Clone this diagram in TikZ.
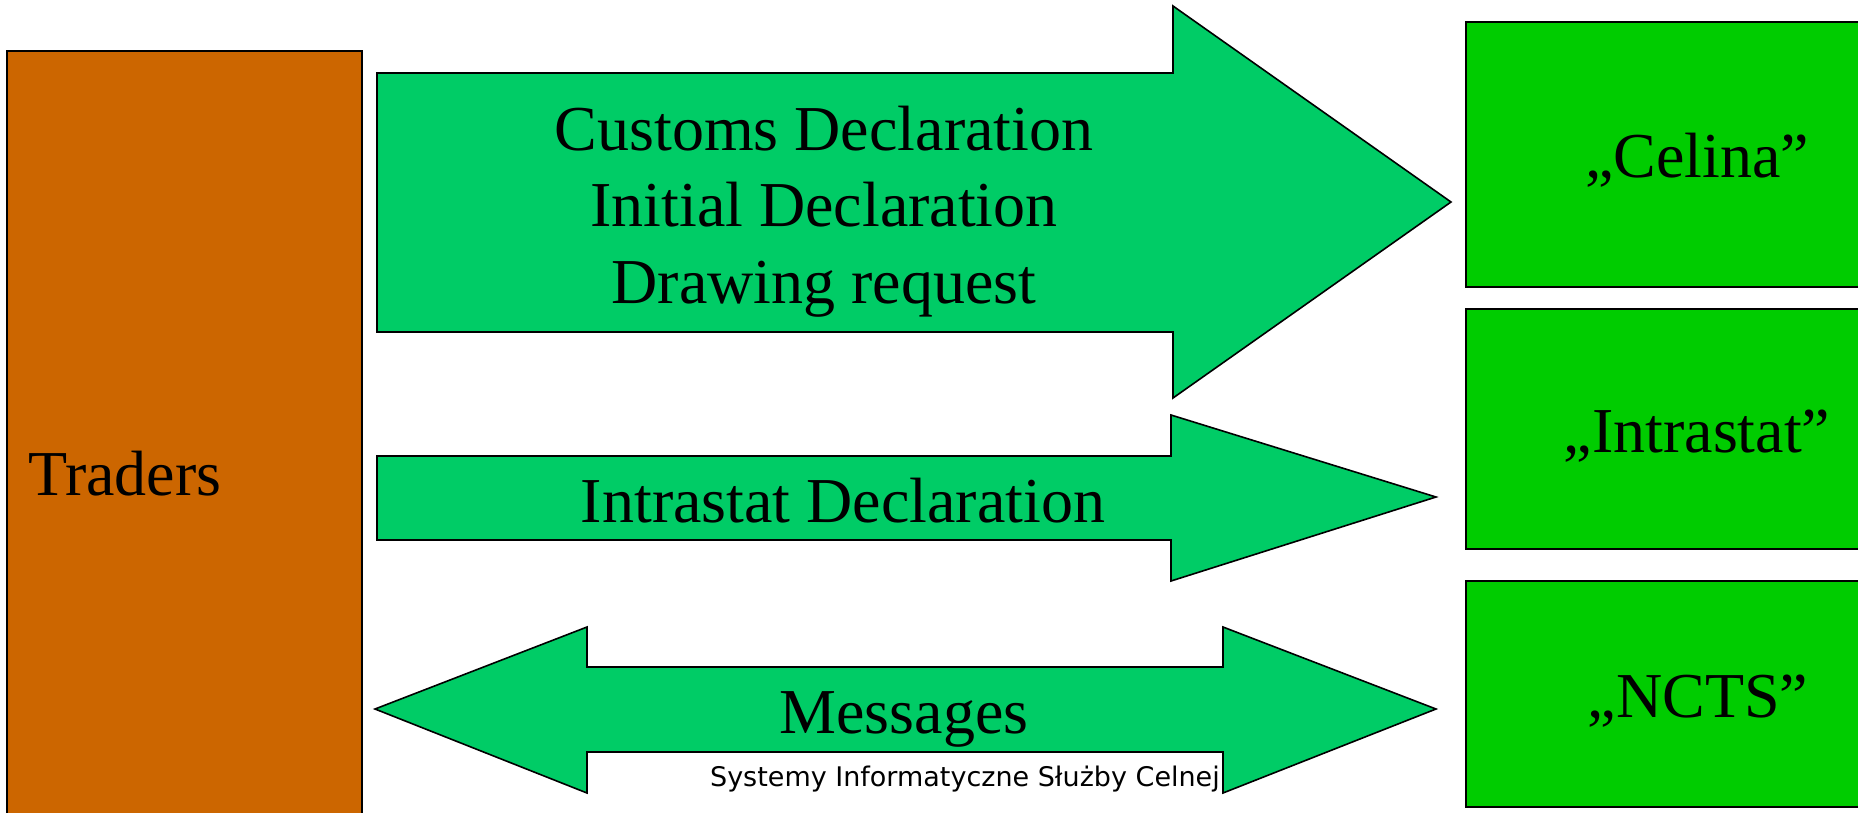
\documentclass[tikz,border=0pt]{standalone}
\usepackage{fontspec}
\setmainfont{Liberation Serif}
\newfontfamily\footfont{DejaVu Sans}
\definecolor{arrowgreen}{RGB}{0,204,102}
\definecolor{boxgreen}{RGB}{0,204,0}
\definecolor{traderorange}{RGB}{204,102,0}
\begin{document}
\begin{tikzpicture}[x=1pt,y=-1pt,
  outline/.style={draw=black, line width=1.6pt, line join=miter},
  arrowshape/.style={outline, fill=arrowgreen},
  systembox/.style={outline, fill=boxgreen},
  traderbox/.style={outline, fill=traderorange},
  bigtext/.style={font=\fontsize{64}{76}\selectfont, inner sep=0pt, text=black},
  foottext/.style={font=\footfont\fontsize{27}{32}\selectfont, inner sep=0pt, text=black}]
\useasboundingbox (0,0) rectangle (1858,812);
\begin{scope}
\clip (0,0) rectangle (1858,812);
% Traders column
\path[traderbox] (7,51) rectangle (362,840);
% system boxes
\path[systembox] (1466,22) rectangle (1930,287);
\path[systembox] (1466,309) rectangle (1930,549);
\path[systembox] (1466,581) rectangle (1930,807);
% big arrow
\path[arrowshape] (377,73) -- (1173,73) -- (1173,6) -- (1451,202) -- (1173,398) -- (1173,332) -- (377,332) -- cycle;
% intrastat arrow
\path[arrowshape] (377,456) -- (1171,456) -- (1171,415) -- (1436,497) -- (1171,581) -- (1171,540) -- (377,540) -- cycle;
% double arrow
\path[arrowshape] (375,709) -- (587,627) -- (587,667) -- (1223,667) -- (1223,627) -- (1436,709) -- (1223,793) -- (1223,752) -- (587,752) -- (587,793) -- cycle;
\end{scope}
% texts
\node[bigtext, anchor=base west] (traders) at (28,495) {Traders};
\node[bigtext, anchor=base] (cd) at (824,150) {Customs Declaration};
\node[bigtext, anchor=base] (id) at (824,226) {Initial Declaration};
\node[bigtext, anchor=base] (dr) at (824,303) {Drawing request};
\node[bigtext, anchor=base] (intradecl) at (843,522) {Intrastat Declaration};
\node[bigtext, anchor=base] (messages) at (904,733) {Messages};
\node[bigtext, anchor=base] (celina) at (1697,177) {„Celina”};
\node[bigtext, anchor=base] (intrastat) at (1697,452) {„Intrastat”};
\node[bigtext, anchor=base] (ncts) at (1698,717) {„NCTS”};
\node[foottext, anchor=base east] (footer) at (1220,786) {Systemy Informatyczne Służby Celnej};
\end{tikzpicture}
\end{document}
